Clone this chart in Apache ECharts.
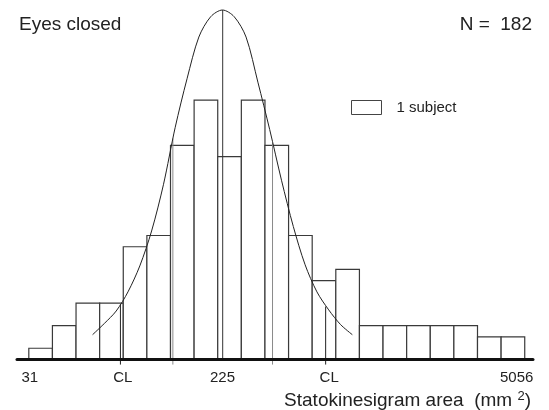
<!DOCTYPE html>
<html>
<head>
<meta charset="utf-8">
<script src="https://cdn.jsdelivr.net/npm/echarts@6/dist/echarts.min.js"></script>
<style>
  html, body { margin: 0; padding: 0; background: #fff; }
  #histChart { width: 549px; height: 410px; }
</style>
</head>
<body>
<div id="histChart"></div>
<script>
// subjects per bin (21 equal bins on the log area scale, N = 182)
const counts = [1, 3, 5, 5, 10, 11, 19, 23, 18, 23, 19, 11, 7, 8, 3, 3, 3, 3, 3, 2, 2];

// fitted curve, every half bin
const curveX = [2.7, 3.2, 3.7, 4.2, 4.7, 5.2, 5.7, 6.2, 6.7, 7.2, 7.7, 8.2,
                8.7, 9.2, 9.7, 10.2, 10.7, 11.2, 11.7, 12.2, 12.7, 13.2, 13.7];
const curveY = [2.2, 3.2, 4.3, 6.0, 8.3, 11.4, 15.5, 20.6, 24.9, 28.6, 30.4, 31.0,
                30.4, 28.6, 24.6, 20.4, 15.9, 11.8, 8.4, 6.0, 4.4, 3.1, 2.2];

// vertical reference lines: [position, top on the curve, bottom]
const meanLine = [8.21, 31.0, 0];
const sdLines = [[6.10, 19.6, -0.45], [10.32, 19.2, -0.45]];
const clLines = [[3.88, 4.9, -0.45], [12.57, 4.7, -0.45]];

// tick labels under the axis
const tickValues = [0.04, 3.98, 8.2, 12.72, 20.66];
const tickLabels = ['31', 'CL', '225', 'CL', '5056'];

const myChart = echarts.init(document.getElementById('histChart'));

function vline(l) {
  return [[l[0], l[1]], [l[0], l[2]]];
}

const lineSeries = (data, color) => ({
  type: 'line',
  data: data,
  symbol: 'none',
  clip: false,
  silent: true,
  lineStyle: { color: color, width: 1 },
  z: 3
});

myChart.setOption({
  animation: false,
  textStyle: { fontFamily: 'Liberation Sans, Arial, sans-serif' },
  title: [
    {
      text: 'Eyes closed',
      left: 14, top: 10,
      textStyle: { fontSize: 19, fontWeight: 'normal', color: '#222' }
    },
    {
      text: 'N =  182',
      right: 12, top: 10,
      textStyle: { fontSize: 19, fontWeight: 'normal', color: '#222' }
    },
    {
      text: '{a|Statokinesigram area  (mm }{s|2}{a|)}',
      right: 13, top: 385,
      textStyle: {
        fontWeight: 'normal',
        rich: {
          a: { fontSize: 19, fontWeight: 'normal', color: '#222', lineHeight: 22 },
          s: { fontSize: 13, fontWeight: 'normal', color: '#222', verticalAlign: 'top', lineHeight: 14 }
        }
      }
    }
  ],
  legend: {
    data: [{
      name: '1 subject',
      icon: 'rect',
      itemStyle: { color: '#fff', borderColor: '#444', borderWidth: 1 }
    }],
    left: 351, top: 100,
    padding: 0,
    itemWidth: 30, itemHeight: 14,
    selectedMode: false,
    textStyle: { fontSize: 15, color: '#222', padding: [0, 0, 0, 10] }
  },
  grid: { left: 17, right: 16, top: 10, bottom: 50.5 },
  xAxis: {
    type: 'value',
    min: -0.5, max: 21.35,
    z: 10,
    axisLine: { show: true, lineStyle: { color: '#111', width: 3 } },
    axisTick: { show: false },
    splitLine: { show: false },
    axisLabel: {
      customValues: tickValues,
      margin: 11,
      fontSize: 15,
      color: '#222',
      formatter: function (v) {
        const i = tickValues.findIndex(t => Math.abs(t - v) < 1e-6);
        return i >= 0 ? tickLabels[i] : '';
      }
    }
  },
  yAxis: { type: 'value', min: 0, max: 31, show: false },
  series: [
    {
      name: '1 subject',
      type: 'custom',
      data: counts.map((c, i) => [i, c]),
      encode: { x: 0, y: 1 },
      itemStyle: { color: '#fff', borderColor: '#444', borderWidth: 1 },
      renderItem: function (params, api) {
        const i = api.value(0);
        const p0 = api.coord([i, api.value(1)]);
        const p1 = api.coord([i + 1, 0]);
        return {
          type: 'rect',
          shape: { x: p0[0], y: p0[1], width: p1[0] - p0[0], height: p1[1] - p0[1] },
          style: { fill: '#fff', stroke: '#3a3a3a', lineWidth: 1.2 }
        };
      },
      z: 1
    },
    lineSeries(vline(sdLines[0]), '#8a8a8a'),
    lineSeries(vline(sdLines[1]), '#8a8a8a'),
    lineSeries(vline(clLines[0]), '#222'),
    lineSeries(vline(clLines[1]), '#222'),
    lineSeries(vline(meanLine), '#333'),
    Object.assign(lineSeries(curveX.map((x, i) => [x, curveY[i]]), '#222'), { smooth: 0.3, z: 4 })
  ]
});
</script>
</body>
</html>
